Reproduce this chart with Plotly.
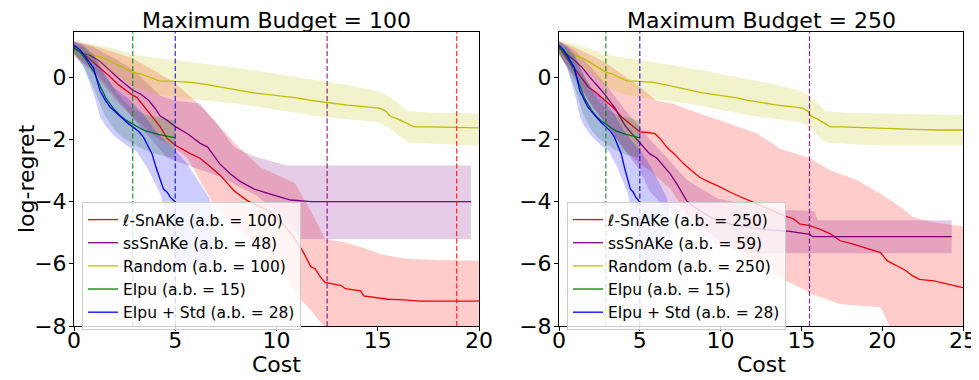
import plotly.graph_objects as go

# ---------------- shared series (same in both panels) ----------------
# EIpu + Std (blue)
blue_x = [0, 0.3, 0.6, 0.96, 1.29, 1.55, 1.78, 2.0, 2.28, 2.6, 2.9, 3.2, 3.43, 3.65, 3.85, 4.05, 4.26, 4.42, 4.6, 4.75, 4.9, 5.0]
blue_y = [1.02, 0.87, 0.62, 0.3, -0.45, -0.75, -0.96, -1.1, -1.28, -1.45, -1.6, -1.75, -1.93, -2.2, -2.46, -2.9, -3.3, -3.6, -3.7, -3.86, -3.95, -4.02]
blue_up_x = [0, 0.5, 1.0, 1.5, 2.0, 2.6, 3.0, 3.5, 4.0, 4.5, 5.0, 5.6, 6.2, 6.7, 6.85, 6.9]
blue_up_y = [1.15, 1.0, 0.7, 0.1, -0.35, -0.65, -0.9, -1.25, -1.7, -2.05, -2.35, -2.8, -3.4, -3.9, -4.5, -6.1]
blue_lo_x = [0, 0.5, 1.0, 1.3, 1.6, 2.0, 2.6, 3.1, 3.6, 4.0, 4.26, 4.6, 5.1, 6.9]
blue_lo_y = [0.8, 0.3, -0.6, -1.3, -1.6, -1.9, -2.2, -2.4, -2.9, -3.4, -3.75, -4.7, -6.1, -6.1]

# EIpu (green)
green_x = [0, 0.3, 0.6, 1.0, 1.3, 1.6, 2.0, 2.3, 2.6, 2.9, 3.2, 3.5, 3.8, 4.2, 4.6, 5.0]
green_y = [0.95, 0.8, 0.55, 0.15, -0.3, -0.7, -1.05, -1.25, -1.4, -1.52, -1.62, -1.72, -1.78, -1.85, -1.9, -1.95]
green_up_x = [0, 0.5, 1.0, 1.5, 2.0, 2.5, 2.9, 3.5, 4.2, 5.0]
green_up_y = [1.1, 0.95, 0.6, 0.1, -0.4, -0.8, -1.0, -1.2, -1.3, -1.4]
green_lo_x = [0, 0.5, 1.0, 1.5, 2.0, 2.5, 2.9, 3.5, 4.2, 5.0]
green_lo_y = [0.75, 0.3, -0.4, -1.2, -1.7, -2.0, -2.15, -2.35, -2.5, -2.6]

# Random (yellow)
rand_x = [0, 0.5, 1.0, 1.5, 2.0, 2.5, 2.9, 3.3, 3.7, 4.2, 5.0, 5.8, 6.5, 7.2, 8.1, 8.8, 9.5, 10.2, 11.0, 11.6, 12.2, 12.8, 13.5, 14.3, 15.1, 15.4, 15.6, 16.0, 16.5, 16.8, 17.5, 18.5, 19.5, 20.5, 22, 23.5, 25]
rand_y = [0.88, 0.8, 0.7, 0.6, 0.45, 0.3, 0.16, 0.1, 0.0, -0.12, -0.14, -0.17, -0.23, -0.32, -0.42, -0.5, -0.55, -0.6, -0.67, -0.74, -0.8, -0.84, -0.9, -0.96, -1.0, -1.1, -1.25, -1.35, -1.5, -1.6, -1.6, -1.62, -1.65, -1.66, -1.68, -1.7, -1.7]
rand_band_x = [0, 1, 2, 2.9, 4, 5, 6.5, 8, 10, 12, 13.5, 15, 15.5, 16, 16.5, 18, 20, 25]
rand_up_y = [1.15, 1.05, 0.9, 0.72, 0.62, 0.55, 0.42, 0.3, 0.1, -0.1, -0.25, -0.45, -0.6, -0.85, -1.1, -1.15, -1.17, -1.22]
rand_lo_y = [0.65, 0.45, 0.1, -0.3, -0.55, -0.65, -0.75, -0.85, -1.05, -1.25, -1.35, -1.45, -1.6, -1.85, -2.1, -2.15, -2.2, -2.2]

# ---------------- left panel (budget 100) ----------------
l_red_x = [0, 0.3, 0.63, 1.0, 1.4, 1.78, 2.2, 2.6, 2.9, 3.1, 3.4, 3.8, 4.26, 4.6, 5.03, 5.74, 6.2, 6.57, 7.23, 7.9, 8.55, 9.3, 9.8, 10.3, 10.8, 11.3, 11.7, 11.9, 12.18, 12.4, 12.8, 13.2, 13.4, 14.16, 14.3, 15.0, 15.5, 16.3, 17.1, 18.0, 20.0]
l_red_y = [0.9, 0.85, 0.66, 0.45, 0.25, 0.01, -0.25, -0.45, -0.58, -0.65, -0.9, -1.2, -1.6, -1.97, -2.2, -2.46, -2.6, -2.79, -3.16, -3.65, -3.97, -4.2, -4.4, -4.7, -5.1, -5.6, -6.1, -6.15, -6.44, -6.6, -6.65, -6.7, -6.8, -6.87, -7.03, -7.08, -7.14, -7.16, -7.2, -7.2, -7.2]
l_red_up_x = [0, 1, 2, 2.9, 4, 5, 6.2, 7.2, 8.2, 9.2, 10.2, 10.9, 11.7, 12.4, 13.3, 14.2, 15.2, 16.5, 18, 20]
l_red_up_y = [1.15, 1.0, 0.8, 0.6, 0.2, -0.2, -0.9, -1.6, -2.3, -2.9, -3.2, -3.4, -4.3, -5.2, -5.3, -5.47, -5.7, -5.85, -5.88, -5.9]
l_red_lo_x = [0, 1, 2, 2.9, 4, 5, 5.6, 6.9, 8, 9.2, 10.2, 11.0, 11.7, 12.26, 13, 20]
l_red_lo_y = [0.7, 0.1, -0.7, -1.3, -1.9, -2.3, -2.6, -4.1, -4.8, -5.5, -6.2, -7.0, -7.5, -7.95, -8.5, -9.0]

l_pur_x = [0, 0.4, 0.8, 1.29, 1.8, 2.3, 2.9, 3.3, 3.68, 4.0, 4.26, 4.6, 5.03, 5.6, 6.24, 6.6, 7.2, 7.7, 8.2, 8.9, 9.9, 10.7, 11.7, 19.6]
l_pur_y = [0.9, 0.8, 0.7, 0.5, 0.2, -0.1, -0.42, -0.55, -0.74, -1.0, -1.25, -1.39, -1.6, -1.82, -2.13, -2.25, -2.79, -3.1, -3.35, -3.6, -3.8, -3.95, -4.0, -4.0]
l_pur_up_x = [0, 1, 2, 2.9, 4.26, 5, 6.2, 7.06, 7.9, 8.9, 10.5, 19.6]
l_pur_up_y = [1.15, 0.95, 0.6, 0.25, -0.6, -0.75, -0.85, -1.5, -2.25, -2.55, -2.84, -2.84]
l_pur_lo_x = [0, 1, 2, 2.9, 4.6, 7.2, 9.0, 10.5, 11.2, 19.6]
l_pur_lo_y = [0.7, 0.2, -0.6, -1.3, -2.6, -3.2, -3.8, -4.6, -5.2, -5.2]

# ---------------- right panel (budget 250) ----------------
r_red_x = [0, 0.5, 1.0, 1.4, 1.8, 2.3, 2.85, 3.4, 3.88, 4.4, 5.0, 5.5, 5.94, 6.3, 6.66, 7.2, 7.7, 8.2, 8.7, 9.2, 9.76, 10.8, 11.8, 12.8, 13.9, 14.5, 14.9, 15.5, 16.2, 16.8, 17.4, 18.1, 18.8, 19.4, 19.9, 20.3, 20.9, 21.4, 21.9, 22.3, 23.2, 23.8, 24.4, 24.9, 25.0]
r_red_y = [0.95, 0.6, 0.23, -0.05, -0.31, -0.5, -0.74, -1.0, -1.28, -1.5, -1.76, -1.78, -1.82, -2.0, -2.25, -2.5, -2.78, -3.0, -3.22, -3.35, -3.48, -3.75, -3.97, -4.2, -4.45, -4.55, -4.72, -4.77, -4.9, -5.04, -5.26, -5.35, -5.47, -5.55, -5.64, -5.9, -6.06, -6.2, -6.39, -6.5, -6.55, -6.62, -6.68, -6.76, -6.77]
r_red_up_x = [0, 1, 2, 2.9, 4, 5, 6, 7, 8.1, 10, 12.2, 13.7, 15.5, 16.8, 18.4, 19.9, 20.5, 21.2, 21.9, 23, 25]
r_red_up_y = [1.15, 0.95, 0.7, 0.45, 0.05, -0.3, -0.75, -0.85, -1.06, -1.4, -1.8, -2.3, -2.6, -3.0, -3.3, -3.75, -3.97, -4.2, -4.5, -4.65, -4.79]
r_red_lo_x = [0, 1, 2, 2.9, 4, 5, 5.6, 6.9, 7.9, 10, 12, 13.7, 15.7, 17.4, 19.9, 20.3, 20.7, 25]
r_red_lo_y = [0.75, -0.1, -0.9, -1.5, -2.3, -2.8, -3.0, -3.6, -4.4, -5.3, -5.9, -6.44, -6.98, -7.3, -7.4, -7.84, -8.3, -8.6]

r_pur_x = [0, 0.5, 1.0, 1.4, 1.9, 2.43, 2.85, 3.15, 3.47, 3.8, 4.08, 4.4, 4.7, 5.0, 5.6, 6.05, 6.66, 6.87, 7.3, 7.6, 7.9, 8.3, 8.72, 9.2, 9.76, 10.8, 11.8, 12.8, 13.9, 14.3, 15.2, 15.5, 15.7, 24.3]
r_pur_y = [0.95, 0.75, 0.52, 0.33, 0.0, -0.31, -0.56, -0.78, -1.0, -1.3, -1.55, -1.75, -1.93, -2.1, -2.46, -2.6, -3.0, -3.1, -3.44, -3.7, -3.97, -4.15, -4.29, -4.45, -4.6, -4.75, -4.83, -4.9, -4.94, -4.96, -5.03, -5.05, -5.13, -5.13]
r_pur_up_x = [0, 1, 2, 3, 4, 5, 5.6, 6.7, 7.9, 9.8, 11.8, 14.0, 15.8, 16.0, 24.3]
r_pur_up_y = [1.15, 0.85, 0.3, -0.3, -1.0, -1.6, -2.0, -2.6, -3.3, -3.9, -4.1, -4.27, -4.3, -4.6, -4.6]
r_pur_lo_x = [0, 1, 2, 3, 4, 5, 5.6, 6.7, 7.7, 9.8, 12.0, 24.3]
r_pur_lo_y = [0.7, 0.0, -0.9, -1.6, -2.3, -3.0, -3.65, -4.3, -4.6, -5.4, -5.66, -5.66]

# vertical "average budget" markers
l_vlines = [2.9, 5.0, 12.5, 18.9]
l_vcolors = ["green", "blue", "purple", "red"]
r_vlines = [2.9, 5.0, 15.5]
r_vcolors = ["green", "blue", "purple"]

titles = ["Maximum Budget = 100", "Maximum Budget = 250"]
l_names = ["ℓ-SnAKe (a.b. = 100)", "ssSnAKe (a.b. = 48)", "Random (a.b. = 100)", "EIpu (a.b. = 15)", "EIpu + Std (a.b. = 28)"]
r_names = ["ℓ-SnAKe (a.b. = 250)", "ssSnAKe (a.b. = 59)", "Random (a.b. = 250)", "EIpu (a.b. = 15)", "EIpu + Std (a.b. = 28)"]

COLORS = {"red": ("#ff0000", "rgba(255,0,0,0.2)"),
          "purple": ("#800080", "rgba(128,0,128,0.2)"),
          "y": ("#bfbf00", "rgba(191,191,0,0.2)"),
          "green": ("#008000", "rgba(0,128,0,0.2)"),
          "blue": ("#0000ff", "rgba(0,0,255,0.2)")}

fig = go.Figure()


def add_series(xa, ya, legend, name, x, y, ux, uy, lx, ly, ckey):
    lc, fc = COLORS[ckey]
    fig.add_trace(go.Scatter(x=x, y=y, mode="lines", name=name,
                             line=dict(color=lc, width=1.3),
                             xaxis=xa, yaxis=ya, legend=legend, hoverinfo="skip"))
    fig.add_trace(go.Scatter(x=list(ux) + list(lx)[::-1], y=list(uy) + list(ly)[::-1],
                             mode="lines", fill="toself", fillcolor=fc,
                             line=dict(width=0, color=fc), showlegend=False,
                             xaxis=xa, yaxis=ya, hoverinfo="skip"))


# left panel
add_series("x", "y", "legend", l_names[0], l_red_x, l_red_y, l_red_up_x, l_red_up_y, l_red_lo_x, l_red_lo_y, "red")
add_series("x", "y", "legend", l_names[1], l_pur_x, l_pur_y, l_pur_up_x, l_pur_up_y, l_pur_lo_x, l_pur_lo_y, "purple")
add_series("x", "y", "legend", l_names[2], rand_x, rand_y, rand_band_x, rand_up_y, rand_band_x, rand_lo_y, "y")
add_series("x", "y", "legend", l_names[3], green_x, green_y, green_up_x, green_up_y, green_lo_x, green_lo_y, "green")
add_series("x", "y", "legend", l_names[4], blue_x, blue_y, blue_up_x, blue_up_y, blue_lo_x, blue_lo_y, "blue")

# right panel
add_series("x2", "y2", "legend2", r_names[0], r_red_x, r_red_y, r_red_up_x, r_red_up_y, r_red_lo_x, r_red_lo_y, "red")
add_series("x2", "y2", "legend2", r_names[1], r_pur_x, r_pur_y, r_pur_up_x, r_pur_up_y, r_pur_lo_x, r_pur_lo_y, "purple")
add_series("x2", "y2", "legend2", r_names[2], rand_x, rand_y, rand_band_x, rand_up_y, rand_band_x, rand_lo_y, "y")
add_series("x2", "y2", "legend2", r_names[3], green_x, green_y, green_up_x, green_up_y, green_lo_x, green_lo_y, "green")
add_series("x2", "y2", "legend2", r_names[4], blue_x, blue_y, blue_up_x, blue_up_y, blue_lo_x, blue_lo_y, "blue")

for xv, c in zip(l_vlines, l_vcolors):
    fig.add_shape(type="line", xref="x", yref="y domain", x0=xv, x1=xv, y0=0, y1=1,
                  line=dict(color=c, width=1.2, dash="5px,2.5px"), opacity=0.85, layer="above")
for xv, c in zip(r_vlines, r_vcolors):
    fig.add_shape(type="line", xref="x2", yref="y2 domain", x0=xv, x1=xv, y0=0, y1=1,
                  line=dict(color=c, width=1.2, dash="5px,2.5px"), opacity=0.85, layer="above")

# page has an 8px body margin: the figure is sized so that it fills the 979x380 window
OFF = 8
W, H = 979 - OFF, 380 - OFF
FONT = "DejaVu Sans"


def px(x):
    return (x - OFF) / W


def py(y):
    return 1 - (y - OFF) / H


L1, R1, L2, R2, T, B = 74, 479, 559, 963, 32, 326

axis_common = dict(showline=True, linecolor="black", linewidth=1, mirror=True,
                   ticks="outside", ticklen=4, tickwidth=1, tickcolor="black",
                   showgrid=False, zeroline=False, automargin=False,
                   tickfont=dict(size=22, family=FONT, color="black"))

legend_common = dict(xanchor="left", yanchor="top",
                     bgcolor="rgba(255,255,255,0.8)", bordercolor="#cccccc", borderwidth=1,
                     font=dict(size=15.5, family=FONT, color="black"))

fig.update_layout(
    template="none",
    width=W, height=H, margin=dict(l=0, r=0, t=0, b=0, autoexpand=False),
    plot_bgcolor="white", paper_bgcolor="white",
    font=dict(family=FONT, color="black"),
    xaxis=dict(domain=[px(L1), px(R1)], range=[0, 20], tickvals=[0, 5, 10, 15, 20], anchor="y",
               ticklabelstandoff=-9, **axis_common),
    yaxis=dict(domain=[py(B), py(T)], range=[-8, 1.45], tickvals=[0, -2, -4, -6, -8], anchor="x",
               ticklabelstandoff=-2, **axis_common),
    xaxis2=dict(domain=[px(L2), px(R2)], range=[0, 25], tickvals=[0, 5, 10, 15, 20, 25], anchor="y2",
                ticklabelstandoff=-9, **axis_common),
    yaxis2=dict(domain=[py(B), py(T)], range=[-8, 1.45], tickvals=[0, -2, -4, -6, -8], anchor="x2",
                ticklabelstandoff=-2, **axis_common),
    legend=dict(x=px(82), y=py(202), **legend_common),
    legend2=dict(x=px(567), y=py(202), **legend_common),
    showlegend=True,
)

ann = [
    dict(text=titles[0], x=px((L1 + R1) / 2), y=py(21)),
    dict(text=titles[1], x=px((L2 + R2) / 2), y=py(21)),
    dict(text="Cost", x=px((L1 + R1) / 2), y=py(364)),
    dict(text="Cost", x=px((L2 + R2) / 2), y=py(364)),
]
for a in ann:
    fig.add_annotation(xref="paper", yref="paper", x=a["x"], y=a["y"], text=a["text"],
                       showarrow=False, xanchor="center", yanchor="middle",
                       font=dict(size=22, family=FONT, color="black"))
fig.add_annotation(xref="paper", yref="paper", x=px(26), y=py(179), text="log-regret",
                   showarrow=False, textangle=-90, xanchor="center", yanchor="middle",
                   font=dict(size=22, family=FONT, color="black"))

fig.write_html("out.html")
